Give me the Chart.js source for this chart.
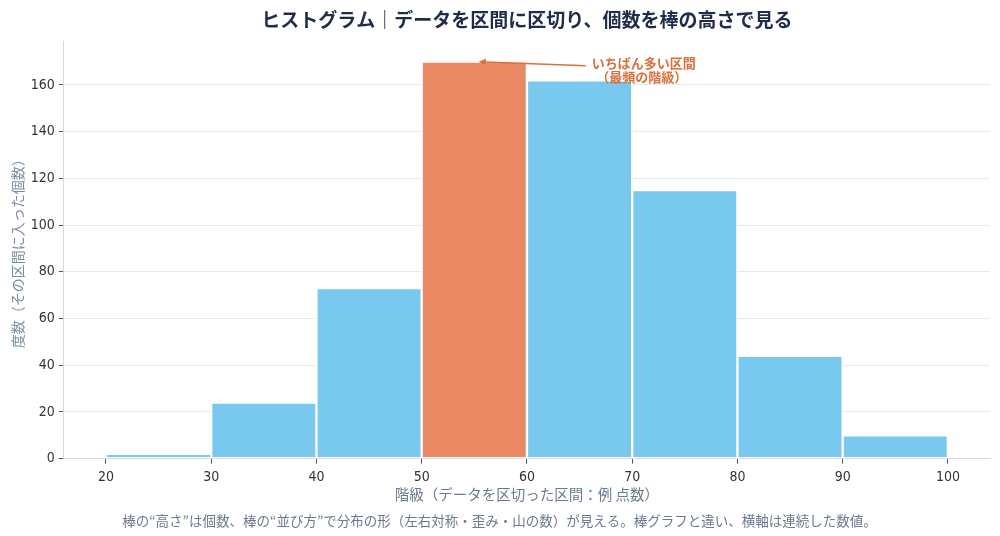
<!DOCTYPE html>
<html>
<head>
<meta charset="utf-8">
<script src="https://cdn.jsdelivr.net/npm/chart.js@4/dist/chart.umd.min.js"></script>
<style>
  html, body { margin: 0; padding: 0; background: #fff; }
  #wrap { width: 1000px; height: 536px; }
</style>
</head>
<body>
<div id="wrap"><canvas id="hist"></canvas></div>
<script>
// class edges (lower bound of each bin) and counts
var binStarts = [20, 30, 40, 50, 60, 70, 80, 90];
var binWidth = 10;
var counts = [2, 24, 73, 170, 162, 115, 44, 10];
var xTicks = [20, 30, 40, 50, 60, 70, 80, 90, 100];
var yTicks = [0, 20, 40, 60, 80, 100, 120, 140, 160];

var JP = '"Noto Sans CJK JP", "Noto Sans", sans-serif';
var NUM = '"DejaVu Sans Condensed", "Liberation Sans Narrow", "Noto Sans CJK JP", sans-serif';

var maxCount = Math.max.apply(null, counts);
var modeIdx = counts.indexOf(maxCount);

var points = binStarts.map(function (s, i) {
    return { x: s + binWidth / 2, y: counts[i] };
});
var colors = counts.map(function (c, i) {
    return i === modeIdx ? 'rgba(232,128,88,0.92)' : 'rgba(110,196,238,0.92)';
});

// arrow + label for the modal class
var annotate = {
    id: 'annotate',
    afterDatasetsDraw: function (chart) {
        var ctx = chart.ctx;
        var xs = chart.scales.x, ys = chart.scales.y;
        var tipX = xs.getPixelForValue(binStarts[modeIdx] + 5.4);
        var tipY = ys.getPixelForValue(maxCount);
        var tx = xs.getPixelForValue(70.9);
        var ty = ys.getPixelForValue(166.5);
        ctx.save();
        ctx.strokeStyle = '#d9703c';
        ctx.fillStyle = '#d9703c';
        ctx.lineWidth = 1.6;
        var sx = tx - 56, sy = ty - 4;
        ctx.beginPath();
        ctx.moveTo(sx, sy);
        ctx.lineTo(tipX + 6, tipY + 0.3);
        ctx.stroke();
        var ang = Math.atan2(tipY - sy, tipX - sx);
        ctx.beginPath();
        ctx.moveTo(tipX, tipY);
        ctx.lineTo(tipX - 8 * Math.cos(ang - 0.4), tipY - 8 * Math.sin(ang - 0.4));
        ctx.lineTo(tipX - 8 * Math.cos(ang + 0.4), tipY - 8 * Math.sin(ang + 0.4));
        ctx.closePath();
        ctx.fill();
        ctx.font = 'bold 13px ' + JP;
        ctx.textAlign = 'center';
        ctx.textBaseline = 'middle';
        ctx.fillText('いちばん多い区間', tx + 2, ty - 7);
        ctx.fillText('（最頻の階級）', tx, ty + 7);
        ctx.restore();
    }
};

new Chart(document.getElementById('hist'), {
    type: 'bar',
    data: {
        datasets: [{
            data: points,
            backgroundColor: colors,
            borderColor: '#ffffff',
            borderWidth: 1.5,
            borderSkipped: false,
            barPercentage: 1.0,
            categoryPercentage: 1.0
        }]
    },
    options: {
        responsive: true,
        maintainAspectRatio: false,
        animation: false,
        layout: { padding: { left: 9, right: 10, top: 0, bottom: 7 } },
        plugins: {
            legend: { display: false },
            tooltip: { enabled: false },
            title: {
                display: true,
                fullSize: false,
                text: 'ヒストグラム｜データを区間に区切り、個数を棒の高さで見る',
                color: '#1f2d4a',
                font: { family: JP, size: 19, weight: 'bold' },
                padding: { top: 8, bottom: 11 }
            },
            subtitle: {
                display: true,
                position: 'bottom',
                text: '棒の“高さ”は個数、棒の“並び方”で分布の形（左右対称・歪み・山の数）が見える。棒グラフと違い、横軸は連続した数値。',
                color: '#6b7a90',
                font: { family: JP, size: 13.5 },
                padding: { top: 10, bottom: 0 }
            }
        },
        scales: {
            x: {
                type: 'linear',
                offset: false,
                min: 16,
                max: 104,
                afterBuildTicks: function (axis) {
                    axis.ticks = xTicks.map(function (v) { return { value: v }; });
                },
                ticks: {
                    color: '#333',
                    font: { family: NUM, size: 14 },
                    padding: 5
                },
                grid: {
                    offset: false,
                    drawOnChartArea: false,
                    tickLength: 5,
                    tickColor: '#555',
                    tickWidth: 1
                },
                border: { display: true, color: '#d5d9e0', width: 1 },
                title: {
                    display: true,
                    text: '階級（データを区切った区間：例 点数）',
                    color: '#6b7a90',
                    font: { family: JP, size: 14.5 },
                    padding: { top: -5, bottom: 0 }
                }
            },
            y: {
                min: 0,
                max: maxCount * 1.05,
                afterBuildTicks: function (axis) {
                    axis.ticks = yTicks.map(function (v) { return { value: v }; });
                },
                ticks: {
                    color: '#333',
                    font: { family: NUM, size: 14 },
                    padding: 4
                },
                grid: {
                    color: '#e6e9ef',
                    tickLength: 5,
                    tickColor: '#555',
                    lineWidth: 1
                },
                border: { display: true, color: '#d5d9e0', width: 1 },
                title: {
                    display: true,
                    text: '度数（その区間に入った個数）',
                    color: '#7b8ba5',
                    font: { family: JP, size: 14 },
                    padding: { top: 0, bottom: 1 }
                }
            }
        }
    },
    plugins: [annotate]
});
</script>
</body>
</html>
